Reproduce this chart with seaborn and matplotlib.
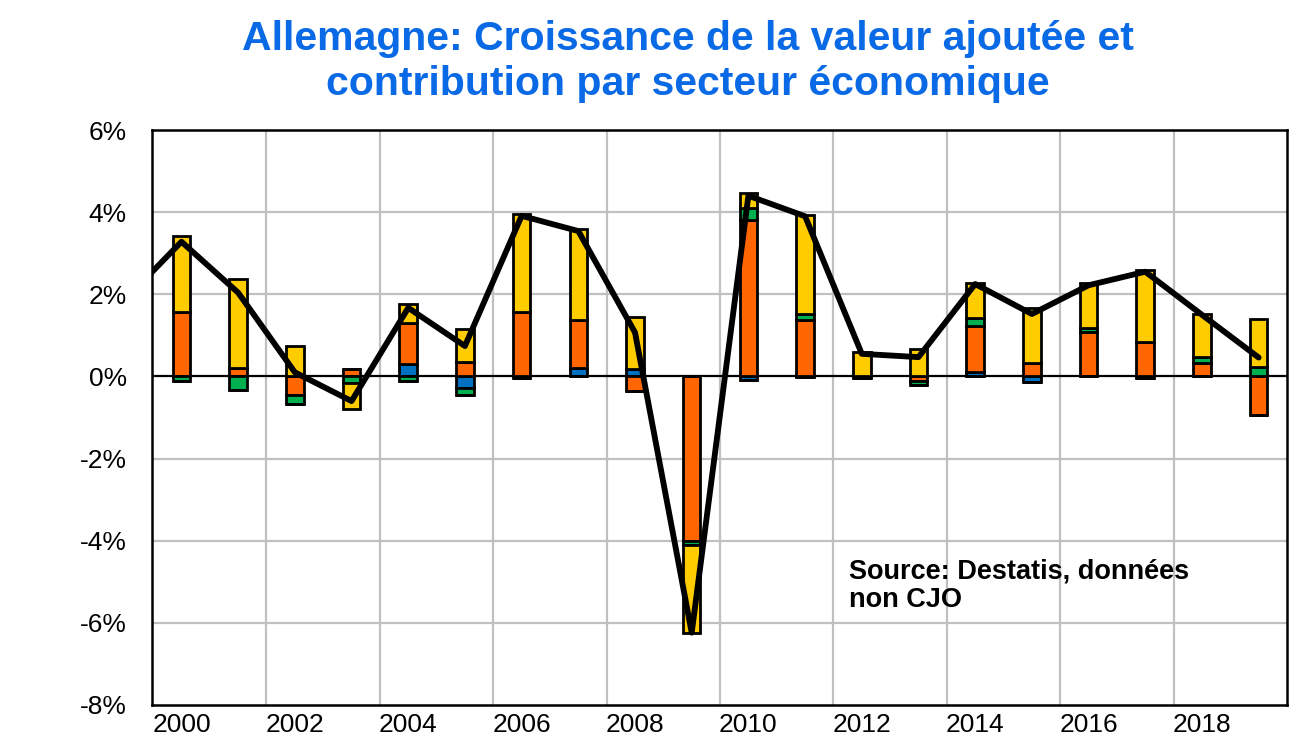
import numpy as np
import pandas as pd
import matplotlib
matplotlib.use("Agg")
import matplotlib.pyplot as plt
import seaborn as sns

# contributions par secteur (points de %)
years = list(range(2000, 2020))
agriculture = [0.0, 0.0, 0.0, 0.0, 0.31, -0.28, -0.03, 0.20, 0.17, 0.0,
               -0.08, -0.02, 0.0, 0.0, 0.10, -0.13, 0.0, -0.03, 0.0, 0.0]
industrie = [1.57, 0.20, -0.44, 0.17, 0.98, 0.35, 1.57, 1.17, -0.35, -4.00,
             3.80, 1.37, 0.02, -0.10, 1.14, 0.32, 1.09, 0.84, 0.33, -0.93]
construction = [-0.10, -0.33, -0.22, -0.17, -0.11, -0.18, 0.0, 0.0, 0.0, -0.11,
                0.30, 0.14, -0.04, -0.10, 0.19, 0.0, 0.09, 0.0, 0.15, 0.24]
services = [1.85, 2.18, 0.74, -0.63, 0.47, 0.80, 2.39, 2.22, 1.28, -2.13,
            0.36, 2.42, 0.58, 0.68, 0.84, 1.34, 1.09, 1.76, 1.04, 1.16]
# croissance totale de la valeur ajoutée (1999 inclus)
total_years = list(range(1999, 2020))
total = [1.86, 3.28, 2.04, 0.10, -0.60, 1.67, 0.74, 3.91, 3.54, 1.07, -6.24,
         4.40, 3.90, 0.55, 0.47, 2.25, 1.52, 2.22, 2.55, 1.50, 0.46]

colors = ["#0070C0", "#FF6600", "#00B050", "#FFCC00"]
series = [agriculture, industrie, construction, services]

sns.set_style("white")
plt.rcParams["font.family"] = ["Liberation Sans", "DejaVu Sans"]
plt.rcParams["text.color"] = "black"

fig = plt.figure(figsize=(13.09, 7.46), dpi=100)
ax = fig.add_axes([0.1161, 0.055, 0.8671, 0.7707])

x = np.arange(len(years))
pos_bottom = np.zeros(len(years))
neg_bottom = np.zeros(len(years))
for vals, col in zip(series, colors):
    v = np.array(vals)
    pos = np.where(v > 0, v, 0)
    neg = np.where(v < 0, v, 0)
    ax.bar(x, pos, bottom=pos_bottom, width=0.31, color=col,
           edgecolor="black", linewidth=2.0, zorder=3)
    ax.bar(x, neg, bottom=neg_bottom, width=0.31, color=col,
           edgecolor="black", linewidth=2.0, zorder=3)
    pos_bottom += pos
    neg_bottom += neg

df = pd.DataFrame({"x": np.array(total_years) - 2000, "total": total})
sns.lineplot(data=df, x="x", y="total", color="black", linewidth=4.2,
             ax=ax, zorder=4)

ax.set_xlim(-0.52, 19.5)
ax.set_ylim(-8, 6)
ax.set_yticks(np.arange(-8, 7, 2))
ax.set_yticklabels([f"{v}%" for v in range(-8, 7, 2)])
ax.set_xticks(np.arange(0, 20, 2))
ax.set_xticklabels([str(y) for y in years[::2]])
ax.tick_params(axis="both", length=0, labelsize=19, colors="black")
ax.tick_params(axis="y", pad=18)
ax.tick_params(axis="x", pad=6)
ax.set_xlabel("")
ax.set_ylabel("")

for yv in range(-6, 6, 2):
    if yv != 0:
        ax.axhline(yv, color="#C0C0C0", linewidth=1.6, zorder=1)
for xv in np.arange(1.5, 18, 2):
    ax.axvline(xv, color="#C0C0C0", linewidth=1.6, zorder=1)
ax.axhline(0, color="black", linewidth=1.6, zorder=2)

for s in ax.spines.values():
    s.set_color("black")
    s.set_linewidth(1.8)
    s.set_visible(True)

ax.text(0.6145, 1 - 577 / 575 + 128 / 575, "Source: Destatis, données",
        transform=ax.transAxes, fontsize=19.5, fontweight="bold",
        ha="left", va="baseline", color="black", zorder=5)
ax.text(0.6145, (705 - 607) / 575, "non CJO",
        transform=ax.transAxes, fontsize=19.5, fontweight="bold",
        ha="left", va="baseline", color="black", zorder=5)

title_col = "#0A6AE6"
fig.text(688 / 1309, 1 - 50 / 746, "Allemagne: Croissance de la valeur ajoutée et",
         ha="center", va="baseline", fontsize=29.5, fontweight="bold", color=title_col)
fig.text(688 / 1309, 1 - 95 / 746, "contribution par secteur économique",
         ha="center", va="baseline", fontsize=29.5, fontweight="bold", color=title_col)

fig.savefig("out.png", dpi=100)
